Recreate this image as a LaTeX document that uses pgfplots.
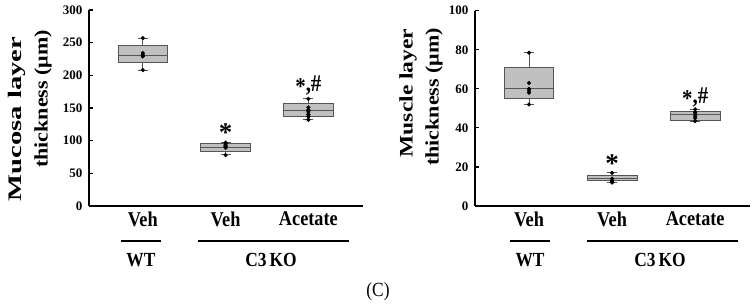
\documentclass[border=0pt]{standalone}
\usepackage{pgfplots}
\pgfplotsset{compat=1.18}
\usepgfplotslibrary{statistics}
\usepackage{fontspec}
\setmainfont{Liberation Serif}

\definecolor{boxfill}{RGB}{192,192,192}
\definecolor{boxedge}{RGB}{85,85,85}

\newcommand{\cx}[1]{\scalebox{0.87}[1]{#1}}
% significance mark: asterisk lowered to sit level with the hash
\newcommand{\sigmark}{\cx{\raisebox{-0.12em}{*},\#}}

\pgfplotsset{
  panel/.style={
    scale only axis, anchor=south west, clip=false,
    axis x line*=bottom, axis y line*=left,
    axis line style={-, line width=1.8pt},
    xmin=0.35, xmax=3.66, ymin=0,
    xtick={1,2,3},
    xticklabels={\cx{Veh},\cx{Veh},\cx{Acetate}},
    x tick style={draw=none},
    y tick style={line width=1.2pt, black},
    tick align=inside, major tick length=3.5pt,
    /pgf/number format/assume math mode=true,
    yticklabel style={font=\bfseries\fontsize{13}{13}\selectfont, xshift=-3pt},
    xticklabel style={font=\bfseries\fontsize{21}{21}\selectfont, yshift=-2pt},
    boxplot/draw direction=y,
    boxplot/box extend=0.6,
    boxplot/whisker extend=0.12,
  },
  bx/.style={draw=boxedge, fill=boxfill, line width=0.9pt},
  pts/.style={only marks, mark=*, mark size=1.9pt, black},
}

\begin{document}
\begin{tikzpicture}
\path[use as bounding box] (0pt,0pt) rectangle (756pt,308pt);

% ---------------- Mucosa layer ----------------
\begin{axis}[panel, at={(89pt,102pt)}, width=274pt, height=196pt,
  ymax=300, ytick={0,50,...,300}]
  \addplot[bx, boxplot prepared={lower whisker=208, lower quartile=220,
    median=231, upper quartile=246, upper whisker=257, draw position=1}]
    coordinates {};
  \addplot[bx, boxplot prepared={lower whisker=79, lower quartile=83,
    median=90, upper quartile=96, upper whisker=97, draw position=2}]
    coordinates {};
  \addplot[bx, boxplot prepared={lower whisker=132, lower quartile=137,
    median=147, upper quartile=157, upper whisker=164, draw position=3}]
    coordinates {};
  \addplot[pts] coordinates {(1,257) (1,234) (1,231) (1,229) (1,208)};
  \addplot[pts] coordinates {(2,97) (2,95) (2,93) (2,91) (2,89) (2,78)};
  \addplot[pts] coordinates {(3,164) (3,151) (3,147) (3,144) (3,140) (3,137) (3,132)};
  \node[font=\bfseries\fontsize{27}{27}\selectfont] at (axis cs:2,112) {*};
  \node[font=\bfseries\fontsize{24}{24}\selectfont] at (axis cs:3,185) {\sigmark};
\end{axis}

% ---------------- Muscle layer ----------------
\begin{axis}[panel, at={(475pt,102pt)}, width=275pt, height=195.3pt,
  ymax=100, ytick={0,20,...,100}]
  \addplot[bx, boxplot prepared={lower whisker=52, lower quartile=55,
    median=60, upper quartile=71, upper whisker=78.5, draw position=1}]
    coordinates {};
  \addplot[bx, boxplot prepared={lower whisker=12, lower quartile=13,
    median=14, upper quartile=15.7, upper whisker=17, draw position=2}]
    coordinates {};
  \addplot[bx, boxplot prepared={lower whisker=43.5, lower quartile=44,
    median=47, upper quartile=48.3, upper whisker=49.5, draw position=3}]
    coordinates {};
  \addplot[pts] coordinates {(1,78.5) (1,63) (1,60) (1,59) (1,58) (1,52)};
  \addplot[pts] coordinates {(2,17) (2,14) (2,13) (2,12.5) (2,12)};
  \addplot[pts] coordinates {(3,49.5) (3,48) (3,47) (3,46) (3,45) (3,43.5)};
  \node[font=\bfseries\fontsize{27}{27}\selectfont] at (axis cs:2,21.5) {*};
  \node[font=\bfseries\fontsize{24}{24}\selectfont] at (axis cs:3,55.5) {\sigmark};
\end{axis}

% y-axis titles
\begin{scope}[every node/.style={rotate=90, font=\bfseries\fontsize{22}{22}\selectfont, inner sep=0pt}]
  \node at (17pt,189pt) {\scalebox{1.3}[0.87]{Mucosa layer}};
  \node at (43pt,209pt) {\scalebox{1}[0.87]{thickness (μm)}};
  \node at (408pt,215pt) {\scalebox{1.07}[0.87]{Muscle layer}};
  \node at (434pt,211pt) {\scalebox{1}[0.87]{thickness (μm)}};
\end{scope}

% group brackets
\begin{scope}[line width=2pt]
  \draw (121pt,67pt) -- (161pt,67pt);
  \draw (198pt,67pt) -- (349pt,67pt);
  \draw (510pt,67pt) -- (550pt,67pt);
  \draw (587pt,67pt) -- (738pt,67pt);
\end{scope}
\begin{scope}[every node/.style={font=\bfseries\fontsize{20}{20}\selectfont}]
  \node at (141pt,48pt) {\cx{WT}};
  \node at (271pt,48pt) {\cx{C3\,KO}};
  \node at (530pt,48pt) {\cx{WT}};
  \node at (660pt,48pt) {\cx{C3\,KO}};
\end{scope}
\node[font=\fontsize{20}{20}\selectfont] at (378pt,16pt) {\cx{(C)}};
\end{tikzpicture}
\end{document}
